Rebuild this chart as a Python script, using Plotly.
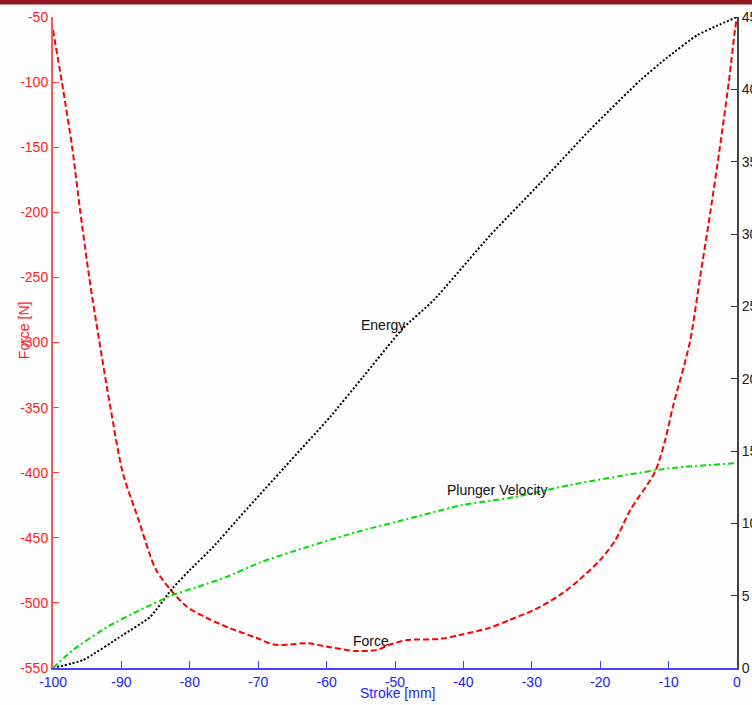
import plotly.graph_objects as go

# Force curve (left axis, N)
force_stroke = [-100, -98.7, -97.2, -96.0, -94.7, -93.2, -91.6, -89.8, -87.5, -85.9, -84.9,
                -82.8, -80.4, -77.5, -74.1, -70.2, -67.8, -65.4, -62.9, -59.5, -55.6, -52.6,
                -50.7, -48.2, -43.4, -40.5, -36.1, -33.2, -29.5, -25.9, -23.0, -20.0, -17.8,
                -15.6, -12.0, -10.5, -9.4, -6.9, -5.4, -3.9, -2.5, -1.2, -0.3, 0.0]
force_values = [-60, -100, -150, -200, -250, -300, -350, -400, -436, -462, -475,
                -490, -503, -511.6, -519.5, -527, -532, -532, -531, -534, -537, -536,
                -532, -528.5, -527.7, -524.6, -519, -513, -505, -494, -482, -467, -452,
                -428.6, -399.5, -375, -350, -300, -250, -200, -150, -100, -60, -50]

# Energy curve (right axis)
energy_stroke = [-100, -95.6, -89.8, -85.8, -82.5, -80.0, -76.6, -73.1, -66.1, -59.5, -54.7,
                 -48.8, -44.4, -36.1, -28.8, -21.5, -14.2, -10.2, -5.8, -2.9, 0.0]
energy_values = [0, 0.55, 2.28, 3.53, 5.53, 6.77, 8.36, 10.23, 13.9, 17.35, 20.1,
                 23.5, 25.4, 29.9, 33.5, 37.2, 40.6, 42.2, 43.75, 44.4, 45.0]

# Plunger velocity curve (right axis scale)
velocity_stroke = [-100, -97.1, -92.1, -87.3, -82.5, -78.9, -74.6, -69.7, -62.9, -55.6,
                   -48.2, -40.1, -32.7, -24.4, -17.1, -9.9, 0.0]
velocity_values = [0, 1.24, 2.83, 4.0, 5.05, 5.6, 6.3, 7.3, 8.36, 9.4,
                   10.3, 11.27, 11.8, 12.65, 13.27, 13.8, 14.17]

x_ticks = list(range(-100, 1, 10))
x_tick_labels = [str(v) for v in x_ticks]
force_ticks = list(range(-550, -49, 50))
force_tick_labels = [str(v) for v in force_ticks]
right_ticks = list(range(0, 46, 5))
right_tick_labels = [str(v) for v in right_ticks]

FONT = "Liberation Sans, Arial, sans-serif"

fig = go.Figure()
fig.add_trace(go.Scatter(x=force_stroke, y=force_values, mode="lines",
                         line=dict(color="#ff0000", width=2, dash="6px,3px",
                                   shape="spline", smoothing=0.8),
                         yaxis="y", showlegend=False))
fig.add_trace(go.Scatter(x=energy_stroke, y=energy_values, mode="lines",
                         line=dict(color="#000000", width=2, dash="2px,2px",
                                   shape="spline", smoothing=0.5),
                         yaxis="y2", showlegend=False))
fig.add_trace(go.Scatter(x=velocity_stroke, y=velocity_values, mode="lines",
                         line=dict(color="#00e000", width=2, dash="6px,3px,2px,3px",
                                   shape="spline", smoothing=0.5),
                         yaxis="y2", showlegend=False))

fig.update_layout(
    width=752, height=705,
    margin=dict(l=53, r=15, t=17, b=37),
    paper_bgcolor="#fdfdfd", plot_bgcolor="#fdfdfd",
    font=dict(family=FONT, size=14),
    xaxis=dict(range=[-100, 0], tickvals=x_ticks, ticktext=x_tick_labels,
               ticks="inside", ticklen=7, automargin=False,
               tickcolor="#4444ff", showline=True, linecolor="#4444ff", linewidth=2,
               tickfont=dict(color="#2222ff", size=14), showgrid=False, zeroline=False),
    yaxis=dict(range=[-550, -50], tickvals=force_ticks, ticktext=force_tick_labels,
               ticks="inside", ticklen=6, automargin=False,
               tickcolor="#ff4444", showline=True, linecolor="#ff5555", linewidth=2,
               tickfont=dict(color="#ff2222", size=14), showgrid=False, zeroline=False),
    yaxis2=dict(range=[0, 45], tickvals=right_ticks, ticktext=right_tick_labels,
                overlaying="y", side="right", automargin=False,
                ticks="inside", ticklen=6, tickcolor="#333333", showline=True,
                linecolor="#444444", linewidth=2, tickfont=dict(color="#222222", size=14),
                showgrid=False, zeroline=False),
    shapes=[dict(type="rect", xref="paper", yref="paper",
                 x0=-0.08, x1=1.03, y0=1 + 12.5 / 651, y1=1.03,
                 fillcolor="#931620", line=dict(width=0), layer="above")],
    annotations=[
        dict(text="Energy", x=-51.8, y=23.7, xref="x", yref="y2", showarrow=False,
             font=dict(color="#111111", size=14)),
        dict(text="Plunger Velocity", x=-35.1, y=12.3, xref="x", yref="y2", showarrow=False,
             font=dict(color="#111111", size=14)),
        dict(text="Force", x=-53.5, y=-529, xref="x", yref="y", showarrow=False,
             font=dict(color="#111111", size=14)),
        dict(text="Force [N]", x=-0.0424, y=0.519, xref="paper", yref="paper",
             xanchor="center", yanchor="middle",
             textangle=-90, showarrow=False, font=dict(color="#ff2222", size=14)),
        dict(text="Stroke [mm]", x=0.504, y=-0.039, xref="paper", yref="paper",
             xanchor="center", yanchor="middle",
             showarrow=False, font=dict(color="#2222ff", size=14)),
    ],
)

fig.write_html("out.html", config={"displayModeBar": False},
               post_script="document.body.style.margin='0';")
